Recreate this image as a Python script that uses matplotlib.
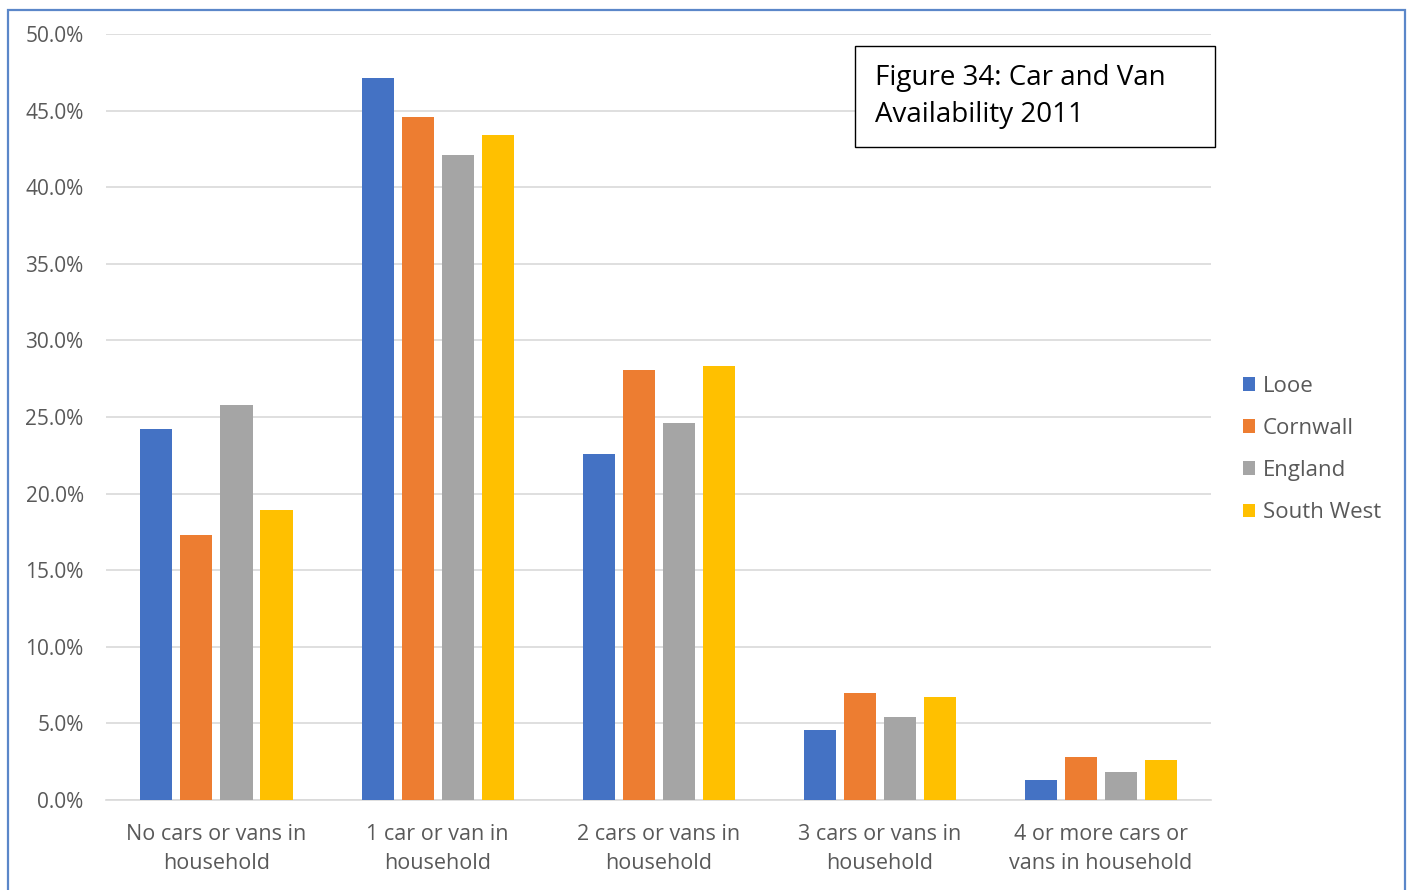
import numpy as np
import matplotlib.pyplot as plt
from matplotlib.patches import Rectangle
from matplotlib.ticker import PercentFormatter

plt.rcParams['font.family'] = ['Open Sans', 'DejaVu Sans']

categories = ["No cars or vans in\nhousehold", "1 car or van in\nhousehold",
              "2 cars or vans in\nhousehold", "3 cars or vans in\nhousehold",
              "4 or more cars or\nvans in household"]
series_names = ["Looe", "Cornwall", "England", "South West"]
looe = [24.2, 47.1, 22.6, 4.6, 1.3]
cornwall = [17.3, 44.6, 28.1, 7.0, 2.8]
england = [25.8, 42.1, 24.6, 5.4, 1.8]
south_west = [18.9, 43.4, 28.3, 6.7, 2.6]
colors = ["#4472C4", "#ED7D31", "#A5A5A5", "#FFC000"]

fig = plt.figure(figsize=(14.12, 8.9), dpi=100)
ax = fig.add_axes([0.075, 0.1011, 0.783, 0.8607])

x = np.arange(len(categories))
step = 0.181
width = 0.145
for i, (name, vals) in enumerate(zip(series_names, [looe, cornwall, england, south_west])):
    ax.bar(x + (i - 1.5) * step, vals, width=width, color=colors[i], label=name, zorder=3)

ax.set_ylim(0, 50)
ax.set_xlim(-0.5, len(categories) - 0.5)
ax.set_yticks(np.arange(0, 50.1, 5))
ax.yaxis.set_major_formatter(PercentFormatter(decimals=1))
ax.grid(axis='y', color='#D9D9D9', linewidth=1.2, zorder=0)
for s in ['top', 'right', 'left']:
    ax.spines[s].set_visible(False)
ax.spines['bottom'].set_color('#D9D9D9')
ax.spines['bottom'].set_linewidth(1.2)
ax.tick_params(axis='both', length=0, colors='#595959')
ax.tick_params(axis='y', labelsize=15, pad=16)
ax.set_xticks(x)
ax.set_xticklabels(categories, fontsize=15.5, color='#595959', linespacing=1.55)
ax.tick_params(axis='x', pad=17)

leg = fig.legend(loc='center left', bbox_to_anchor=(0.866, 0.495), frameon=False,
                 fontsize=16, labelcolor='#595959', handlelength=0.55, handleheight=0.55,
                 handletextpad=0.35, labelspacing=0.95)

# title box
fig.patches.append(Rectangle((0.6055, 0.8348), 0.255, 0.1135, transform=fig.transFigure,
                             facecolor='white', edgecolor='black', linewidth=1.0, zorder=5))
fig.text(0.6197, 0.8916, "Figure 34: Car and Van\nAvailability 2011", fontsize=20,
         va='center', ha='left', linespacing=1.45, zorder=6)

# outer frame
fig.patches.append(Rectangle((0.0057, -0.05), 0.9894, 1.0387, transform=fig.transFigure,
                             fill=False, edgecolor='#5B87C9', linewidth=1.6))

fig.savefig("out.png", dpi=100)
